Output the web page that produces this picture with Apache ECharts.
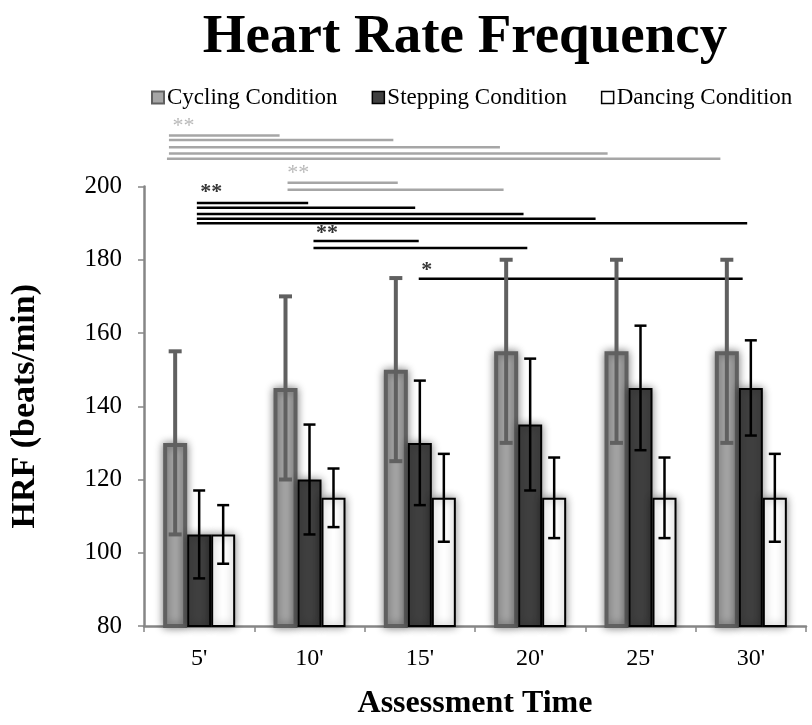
<!DOCTYPE html>
<html><head><meta charset="utf-8">
<script src="https://cdn.jsdelivr.net/npm/echarts@6/dist/echarts.min.js"></script>
<style>html,body{margin:0;padding:0;background:#fff}#c{width:812px;height:725px}</style>
</head><body><div id="c"></div>
<script>
// ---- data ----
const categories = ["5'", "10'", "15'", "20'", "25'", "30'"];
const seriesNames = ['Cycling Condition', 'Stepping Condition', 'Dancing Condition'];
const cyclingMean = [130, 145, 150, 155, 155, 155];
const cyclingSD = [25, 25, 25, 25, 25, 25];
const steppingMean = [105, 120, 130, 135, 145, 145];
const steppingSD = [12, 15, 17, 18, 17, 13];
const dancingMean = [105, 115, 115, 115, 115, 115];
const dancingSD = [8, 8, 12, 11, 11, 12];
const yMin = 80, yMax = 200, yStep = 20;

// significance brackets: [start (category units), end (category units), HRF level]
const grayLines = [
  [0.226, 1.229, 213.9], [0.226, 2.26, 212.7], [0.226, 3.226, 210.7],
  [0.226, 4.202, 209.0], [0.208, 5.224, 207.6],
  [1.301, 2.30, 201.0], [1.301, 3.259, 199.1]
];
const blackLines = [
  [0.479, 1.488, 195.5], [0.479, 2.458, 194.2], [0.479, 3.44, 192.5],
  [0.479, 4.093, 191.2], [0.479, 5.467, 190.0],
  [1.536, 2.49, 185.1], [1.536, 3.474, 183.2],
  [2.49, 5.426, 174.8]
];
// significance marks: [x (category units), HRF level, text]
const grayStars = [[0.357, 216.4, '**'], [1.398, 203.7, '**']];
const blackStars = [[0.61, 198.4, '**'], [1.658, 187.3, '**'], [2.562, 177.0, '*']];

// ---- chart ----
const FONT = 'Liberation Serif';
const BW = 24;
const chart = echarts.init(document.getElementById('c'));

function errSeries(name, means, sds, offsetIdx, color, lw, cap) {
  return {
    type: 'custom', name: name, xAxisIndex: 0, yAxisIndex: 0, z: 10,
    data: means.map((m, i) => [i, m - sds[i], m + sds[i]]),
    renderItem(params, api) {
      const lo = api.coord([api.value(0), api.value(1)]);
      const hi = api.coord([api.value(0), api.value(2)]);
      const x = lo[0] + offsetIdx * BW;
      const st = { stroke: color, lineWidth: lw };
      return { type: 'group', children: [
        { type: 'line', shape: { x1: x, y1: lo[1], x2: x, y2: hi[1] }, style: st },
        { type: 'line', shape: { x1: x - cap / 2, y1: hi[1], x2: x + cap / 2, y2: hi[1] }, style: st },
        { type: 'line', shape: { x1: x - cap / 2, y1: lo[1], x2: x + cap / 2, y2: lo[1] }, style: st }
      ]};
    }
  };
}

const shadow = { shadowBlur: 9, shadowColor: 'rgba(0,0,0,0.45)' };
const series = [
  { type: 'bar', name: seriesNames[0], data: cyclingMean, barWidth: BW, barGap: '0%',
    itemStyle: Object.assign({ color: '#a6a6a6', borderColor: '#606060', borderWidth: 4 }, shadow) },
  { type: 'bar', name: seriesNames[1], data: steppingMean, barWidth: BW, barGap: '0%',
    itemStyle: Object.assign({ color: '#404040', borderColor: '#000', borderWidth: 2 }, shadow) },
  { type: 'bar', name: seriesNames[2], data: dancingMean, barWidth: BW, barGap: '0%',
    itemStyle: Object.assign({ color: '#ffffff', borderColor: '#000', borderWidth: 2 }, shadow) },
  errSeries('errC', cyclingMean, cyclingSD, -1, '#606060', 4, 13),
  errSeries('errS', steppingMean, steppingSD, 0, '#000', 2.5, 12),
  errSeries('errD', dancingMean, dancingSD, 1, '#000', 2.5, 12)
];
grayLines.concat(blackLines).forEach((l, i) => {
  const gray = i < grayLines.length;
  series.push({
    type: 'line', xAxisIndex: 1, yAxisIndex: 0, clip: false, symbol: 'none', silent: true, z: 5,
    data: [[l[0], l[2]], [l[1], l[2]]],
    lineStyle: { color: gray ? '#a6a6a6' : '#000', width: 2.5 }
  });
});
[[grayStars, '#a6a6a6'], [blackStars, '#000']].forEach(([arr, col]) => {
  series.push({
    type: 'scatter', xAxisIndex: 1, yAxisIndex: 0, clip: false, symbolSize: 0, silent: true,
    data: arr.map(s => ({ value: [s[0], s[1]], name: s[2] })),
    label: { show: true, position: 'inside', formatter: p => p.name, color: col,
      fontFamily: FONT, fontSize: 22, fontWeight: col === '#000' ? 'bold' : 'normal' }
  });
});

chart.setOption({
  animation: false,
  backgroundColor: '#fff',
  title: { text: 'Heart Rate Frequency', left: 460, textAlign: 'center', top: 5,
    textStyle: { fontFamily: FONT, fontSize: 55, fontWeight: 'bold', color: '#000' } },
  legend: {
    data: [
      { name: seriesNames[0], itemStyle: { borderWidth: 2, borderColor: '#606060', color: '#a6a6a6' } },
      { name: seriesNames[1], itemStyle: { borderWidth: 1.5, borderColor: '#000', color: '#404040' } },
      { name: seriesNames[2], itemStyle: { borderWidth: 1.5, borderColor: '#000', color: '#fff' } }
    ],
    left: 146, top: 81, icon: 'rect', itemWidth: 12, itemHeight: 12, itemGap: 34,
    textStyle: { fontFamily: FONT, fontSize: 23, color: '#000', padding: [0, 0, 0, -2] }
  },
  grid: { left: 142, right: 6, top: 186.5, bottom: 90, containLabel: false },
  xAxis: [
    { type: 'category', data: categories,
      axisLine: { lineStyle: { color: '#868686', width: 2.5 } },
      axisTick: { show: true, length: 6, lineStyle: { color: '#868686', width: 1.5 } },
      axisLabel: { fontFamily: FONT, fontSize: 24, color: '#000', margin: 21 },
      name: 'Assessment Time', nameLocation: 'middle', nameGap: 62,
      nameTextStyle: { fontFamily: FONT, fontSize: 32, fontWeight: 'bold', color: '#000' } },
    { type: 'value', min: 0, max: 6, show: false }
  ],
  yAxis: {
    type: 'value', min: yMin, max: yMax, interval: yStep,
    axisLine: { show: true, lineStyle: { color: '#868686', width: 2.5 } },
    axisTick: { show: true, length: 6, lineStyle: { color: '#868686', width: 1.5 } },
    splitLine: { show: false },
    axisLabel: { fontFamily: FONT, fontSize: 25, color: '#000', margin: 22 },
    name: 'HRF (beats/min)', nameLocation: 'middle', nameGap: 102,
    nameTextStyle: { fontFamily: FONT, fontSize: 34, fontWeight: 'bold', color: '#000' }
  },
  series: series
});
</script></body></html>
